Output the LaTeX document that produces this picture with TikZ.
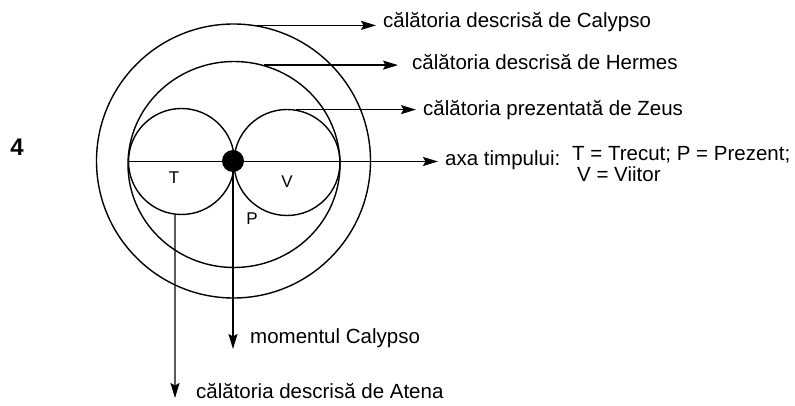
\documentclass[tikz,border=0pt]{standalone}
\usepackage{fontspec}
\setmainfont{Liberation Sans}
\usetikzlibrary{arrows.meta,shapes.geometric,calc}
\begin{document}
\begin{tikzpicture}[x=1pt,y=-1pt,
  ln/.style={line width=1.4pt},
  ring/.style={ln,draw,circle,inner sep=0pt},
  arr/.style={ln,-{Stealth[length=15pt,width=9pt,inset=2.5pt]}},
  lab/.style={inner sep=0pt,anchor=base west,font=\fontsize{20.5}{21}\selectfont},
  small/.style={inner sep=0pt,font=\fontsize{17}{18}\selectfont}]
\useasboundingbox (0,0) rectangle (795,406);
% circles
\node[ring,minimum size=274pt] (outer) at (233.5,161) {};
\node[ln,draw,ellipse,inner sep=0pt,minimum width=212pt,minimum height=206pt] (mid) at (234,164.5) {};
\node[ring,minimum size=106pt] (leftC) at (181.5,161.5) {};
\node[ring,minimum size=106pt] (rightC) at (287,162.5) {};
\node[circle,fill=black,inner sep=0pt,minimum size=22pt] (dot) at (233,161) {};
% labels
\node[inner sep=0pt,font=\fontsize{24}{24}\selectfont\bfseries] (four) at (17,147) {4};
\node[small] (tT) at (174,178) {T};
\node[small] (tV) at (287,182) {V};
\node[small] (tP) at (252,219) {P};
\node[lab] (labCal) at (383,28) {călătoria descrisă de Calypso};
\node[lab] (labHer) at (412,70) {călătoria descrisă de Hermes};
\node[lab] (labZeu) at (423,116) {călătoria prezentată de Zeus};
\node[lab] (labAxa) at (445,166) {axa timpului:};
\node[lab] (leg1) at (572,161) {T = Trecut; P = Prezent;};
\node[lab] (leg2) at (577,182) {V = Viitor};
\node[lab] (labMom) at (250,343) {momentul Calypso};
\node[lab] (labAte) at (196,398) {călătoria descrisă de Atena};
\coordinate (tipMom) at (233,349);
\coordinate (tipAte) at (175,398);
% connectors
\draw[arr] (outer.80) -- ($(outer.80 -| labCal.west)+(-7,0)$);
\draw[arr] (mid.73) -- ($(mid.73 -| labHer.west)+(-14,0)$);
\draw[arr] (rightC.80) -- ($(rightC.80 -| labZeu.west)+(-7,0)$);
\draw[arr] (leftC.west) -- ($(leftC.west -| labAxa.west)+(-7,0)$);
\draw[arr] (dot.south) -- (tipMom);
\draw[arr] (leftC.-97) -- (tipAte);
\end{tikzpicture}
\end{document}
